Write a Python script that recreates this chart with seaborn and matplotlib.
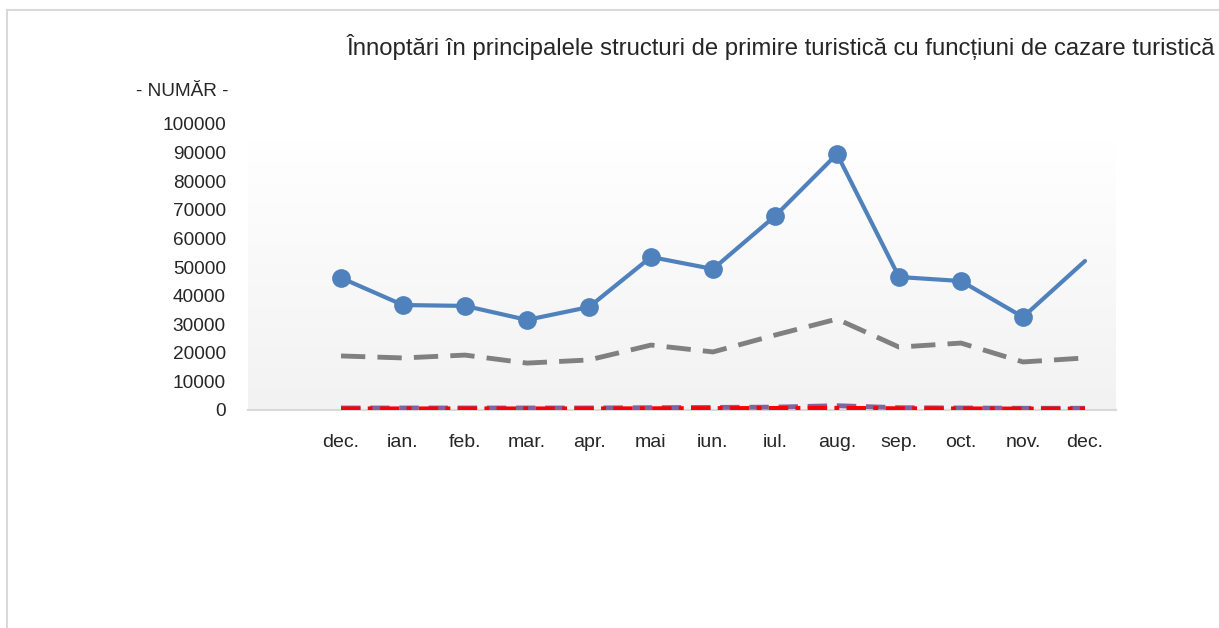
import numpy as np
import pandas as pd
import seaborn as sns
import matplotlib.pyplot as plt
from matplotlib.patches import Rectangle
from matplotlib.colors import LinearSegmentedColormap

sns.set_style("white")
plt.rcParams["font.family"] = ["Liberation Sans", "DejaVu Sans"]

# data
months = ["dec.", "ian.", "feb.", "mar.", "apr.", "mai", "iun.",
          "iul.", "aug.", "sep.", "oct.", "nov.", "dec."]
total = [46200, 36700, 36400, 31500, 36000, 53500, 49300,
         67800, 89500, 46500, 45100, 32500, 52100]
hoteluri = [18900, 18200, 19200, 16400, 17500, 22700, 20300,
            26200, 31800, 22000, 23400, 16800, 18200]
serie_rosie = [400, 400, 400, 400, 400, 450, 500,
               550, 600, 450, 400, 350, 350]
serie_mov = [700, 700, 700, 700, 700, 800, 900,
             1000, 1500, 800, 700, 600, 600]

df = pd.DataFrame({"poz": range(len(months)), "luna": months,
                   "total": total, "hoteluri": hoteluri,
                   "rosu": serie_rosie, "mov": serie_mov})

fig = plt.figure(figsize=(12.19, 6.28), dpi=100)
ax = fig.add_axes([248 / 1219, 1 - 410 / 628, (1116 - 248) / 1219, (410 - 124) / 628])

# gradient background of plot area
grad = np.linspace(1, 0, 256).reshape(-1, 1)
cmap = LinearSegmentedColormap.from_list("g", ["#f2f2f2", "#ffffff"])
ax.imshow(grad, aspect="auto", cmap=cmap, extent=[-1.5, 12.5, 0, 94000], zorder=0)

sns.lineplot(data=df, x="poz", y="mov", ax=ax, color="#8064a2", lw=3.5, zorder=2)
ax.lines[-1].set_dashes([4, 2])
sns.lineplot(data=df, x="poz", y="rosu", ax=ax, color="#ff0000", lw=3.5, zorder=3)
ax.lines[-1].set_dashes([4, 1.5, 1, 1.5])
sns.lineplot(data=df, x="poz", y="hoteluri", ax=ax, color="#808080", lw=3.5, zorder=4)
ax.lines[-1].set_dashes([5, 2.5])
sns.lineplot(data=df, x="poz", y="total", ax=ax, color="#4f81bd", lw=3, zorder=5,
             marker="o", markersize=13.5, markeredgewidth=0,
             markevery=list(range(len(months) - 1)))

ax.set_xlim(-1.5, 12.5)
ax.set_ylim(0, 100000)
ax.set_yticks(range(0, 100001, 10000))
ax.set_yticklabels([str(v) for v in range(0, 100001, 10000)], fontsize=13.7)
ax.set_xticks(df["poz"])
ax.set_xticklabels(months, fontsize=14)
ax.tick_params(axis="x", length=0, pad=17)
ax.tick_params(axis="y", length=0, pad=16)
ax.set_xlabel("")
ax.set_ylabel("")
for s in ["top", "right", "left"]:
    ax.spines[s].set_visible(False)
ax.spines["bottom"].set_color("#d9d9d9")
ax.spines["bottom"].set_linewidth(1.5)
ax.spines["bottom"].set_zorder(1)

fig.text(346 / 1219, 1 - 47 / 628,
         "Înnoptări în principalele structuri de primire turistică cu funcțiuni de cazare turistică",
         fontsize=17.2, ha="left", va="center")
fig.text(228 / 1219, 1 - 92 / 628, "- NUMĂR -", fontsize=13.7, ha="right", va="center")

# chart border (right and bottom edges fall outside the image)
fig.patches.append(Rectangle((7 / 1219, -0.05), 1.1, 1 - 10 / 628 + 0.05,
                             transform=fig.transFigure, fill=False,
                             edgecolor="#d9d9d9", lw=1.5))

fig.savefig("out.png", dpi=100)
